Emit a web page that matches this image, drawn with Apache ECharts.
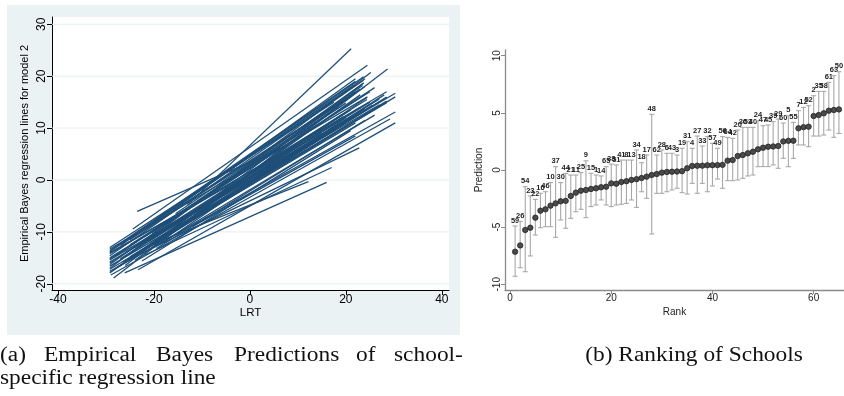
<!DOCTYPE html>
<html>
<head>
<meta charset="utf-8">
<script src="https://cdn.jsdelivr.net/npm/echarts@6/dist/echarts.min.js"></script>
<style>
  html, body { margin: 0; padding: 0; background: #fff; }
  #chart { width: 844px; height: 396px; }
</style>
</head>
<body>
<div id="chart"></div>
<script>
// panel (a): one regression line per school, LRT range -> predicted value
var lrtStart  = [-29.2, -29.2, -29.2, -29.2, -29.2, -29.2, -29.2, -29.2, -29.2, -29.2, -29.2, -29.2, -28.4, -29.0, -26.1, -23.3,
                 -24.4, -23.5, -13.0, -29.2, -20.0, -22.0, -18.0, -24.0, -23.0, -26.0, -20.0, -15.0, -25.0, -22.0, -18.0, -27.0,
                 -29.2, -16.0, -20.0, -25.0, -10.0, -28.0, -29.2, -21.0, -12.0, -24.0, -19.0, -26.0, -14.0, -22.0, -29.2, -17.0,
                 -29.2, -27.5, -25.0, -23.0, -21.0, -19.5, -28.0, -24.5, -17.0, -26.5, -22.5, -29.2, -20.5, -15.5, -27.0];
var lrtEnd    = [24.5, 23.7, 28.5, 23.7, 24.4, 28.5, 30.3, 23.7, 28.5, 25.2, 30.3, 23.0, 28.7, 29.2, 16.0, 30.3,
                 24.5, 8.0, 21.1, 22.0, 22.8, 17.05, 12.2, 20.9, 24.4, 23.7, 28.5, 30.3, 25.0, 24.0, 20.0, 21.0,
                 19.0, 22.0, 24.0, 20.0, 18.0, 25.0, 15.0, 26.0, 22.0, 27.0, 23.0, 18.0, 25.0, 23.0, 22.0, 20.0,
                 26.0, 24.0, 28.5, 22.0, 27.0, 24.0, 20.0, 19.5, 25.5, 28.0, 21.0, 17.5, 18.5, 23.5, 21.5];
var predStart = [-13.3, -13.8, -14.2, -14.6, -15.0, -15.4, -15.8, -16.3, -16.6, -17.0, -17.6, -17.9, -18.9, -18.3, -17.9, -17.3,
                 -9.45, -6.05, -4.8, -13.6, -13.0, -14.5, -11.5, -15.5, -14.0, -16.5, -12.5, -9.5, -12.5, -11.0, -12.0, -15.2,
                 -16.0, -5.8, -8.0, -11.5, -6.0, -17.0, -14.0, -13.5, -9.0, -13.0, -10.5, -14.0, -7.5, -9.5, -17.2, -9.0,
                 -15.2, -16.8, -14.8, -12.2, -11.8, -13.2, -14.6, -13.8, -10.5, -15.8, -15.6, -13.0, -10.2, -6.5, -12.6];
var predEnd   = [16.0, 19.9, 17.0, 19.2, 15.5, 15.9, 16.7, 18.7, 14.9, 20.7, 13.1, 16.4, 21.4, 11.75, -0.45, 11.0,
                 22.1, 6.6, 25.3, 19.0, 6.2, 2.4, -0.3, 16.1, 15.9, 18.7, 16.0, 16.0, 17.0, 18.0, 12.0, 13.5,
                 12.5, 19.5, 19.5, 15.5, 10.0, 14.0, 9.0, 12.5, 8.5, 14.5, 14.0, 10.5, 15.0, 17.5, 11.0, 13.0,
                 17.8, 13.8, 15.2, 17.0, 15.6, 11.5, 14.8, 12.2, 14.4, 16.4, 9.5, 15.0, 14.2, 18.2, 18.2];
var xTicksA = [-40, -20, 0, 20, 40];
var yTicksA = [-20, -10, 0, 10, 20, 30];

// panel (b): schools ordered by rank (rank = position + 1)
var schoolId = [59, 26, 54, 23, 22, 16, 46, 10, 37, 30, 44, 21, 11, 25, 9, 15, 1, 14, 65, 38,
                51, 41, 8, 13, 34, 18, 17, 48, 62, 28, 6, 43, 3, 19, 31, 4, 27, 33, 32, 57,
                49, 56, 64, 42, 20, 36, 53, 40, 24, 47, 45, 39, 29, 60, 5, 55, 7, 12, 52, 2,
                35, 58, 61, 63, 50];
var prediction = [-7.15, -6.6, -5.25, -5.05, -4.17, -3.56, -3.44, -3.12, -2.92, -2.74,
                  -2.7, -2.27, -1.98, -1.81, -1.75, -1.66, -1.6, -1.51, -1.46, -1.17,
                  -1.2, -1.05, -0.98, -0.87, -0.8, -0.7, -0.58, -0.44, -0.35, -0.23,
                  -0.17, -0.15, -0.13, -0.1, 0.15, 0.35, 0.37, 0.38, 0.41, 0.42,
                  0.43, 0.45, 0.82, 0.87, 1.22, 1.31, 1.46, 1.6, 1.81, 1.95,
                  2.04, 2.06, 2.1, 2.5, 2.55, 2.56, 3.65, 3.75, 3.79, 4.72,
                  4.81, 4.96, 5.19, 5.25, 5.3];
var upperCI = [-4.9, -4.5, -1.46, -2.27, -2.57, -2.04, -1.9, -1.1, 0.29, -1.1,
               -0.3, -0.44, -0.44, -0.23, 0.8, -0.29, -0.44, -0.52, 0.29, 0.52,
               0.44, 0.87, 0.87, 0.87, 1.75, 0.64, 1.31, 4.87, 1.31, 1.75,
               1.46, 1.46, 1.31, 1.9, 2.48, 1.9, 2.97, 2.1, 2.92, 2.33,
               1.9, 2.92, 2.85, 2.77, 3.5, 3.73, 3.73, 3.73, 4.31, 3.88,
               3.94, 4.23, 4.46, 4.11, 4.75, 4.17, 5.19, 5.48, 5.63, 6.5,
               6.88, 6.88, 7.67, 8.25, 8.6];
var lowerCI = [-9.3, -8.55, -8.9, -7.52, -5.69, -5.05, -4.96, -4.96, -5.89, -4.37,
               -5.1, -4.23, -3.65, -3.44, -4.17, -3.2, -3.06, -2.62, -3.06, -3.2,
               -3.06, -3.0, -2.92, -2.62, -3.27, -1.9, -2.48, -5.6, -2.04, -2.04,
               -1.9, -1.75, -1.6, -1.98, -2.1, -1.17, -2.04, -1.17, -1.9, -1.4,
               -0.79, -1.6, -0.93, -0.93, -0.87, -0.73, -0.52, -0.44, 0.29, 0.3,
               0.3, 0.44, 0.15, 1.02, 0.29, 1.02, 2.19, 2.19, 2.04, 2.97,
               2.97, 3.06, 3.5, 2.86, 3.2];
var xTicksB = [0, 20, 40, 60];
var yTicksB = [-10, -5, 0, 5, 10];

var chart = echarts.init(document.getElementById('chart'));

var schoolLines = [];
for (var i = 0; i < lrtStart.length; i++) {
  schoolLines.push({ coords: [[lrtStart[i], predStart[i]], [lrtEnd[i], predEnd[i]]] });
}
var ranking = [];
for (var k = 0; k < schoolId.length; k++) {
  ranking.push([k + 1, prediction[k], lowerCI[k], upperCI[k], schoolId[k]]);
}

var sans = '"Liberation Sans", Arial, sans-serif';
var serif = '"Liberation Serif", "Times New Roman", serif';
var xMinA = -41.25, xMaxA = 41.5;

// caption text, a bit wider than Times to look like the LaTeX font
function caption(text, x, y, centered) {
  return {
    type: 'text', x: x, y: y, scaleX: 1.17, z: 10,
    style: {
      text: text, fontSize: 20, fontFamily: serif, fill: '#111',
      align: centered ? 'center' : 'left', textAlign: centered ? 'center' : 'left',
      verticalAlign: 'middle', textVerticalAlign: 'middle'
    }
  };
}

var option = {
  animation: false,
  backgroundColor: '#fff',
  graphic: [
    { type: 'rect', z: -10, shape: { x: 7, y: 5, width: 453, height: 330 }, style: { fill: '#eaf2f3' } },
    caption('(a)', 0, 356),
    caption('Empirical', 44, 356),
    caption('Bayes', 156, 356),
    caption('Predictions', 234, 356),
    caption('of', 356, 356),
    caption('school-', 394, 356),
    caption('specific regression line', 0, 379),
    caption('(b) Ranking of Schools', 694, 356, true)
  ],
  grid: [
    { left: 52, right: 395, top: 17, bottom: 106, show: true, backgroundColor: '#fff', borderWidth: 0 },
    { left: 505, right: -9, top: 50, bottom: 106 }
  ],
  xAxis: [
    {
      type: 'value', gridIndex: 0, min: xMinA, max: xMaxA,
      axisLine: { onZero: false, lineStyle: { color: '#000', width: 1 } },
      axisTick: { customValues: xTicksA, length: 5, lineStyle: { color: '#000' } },
      axisLabel: { customValues: xTicksA, fontSize: 12, fontFamily: sans, color: '#000', margin: 4 },
      splitLine: { show: false },
      name: 'LRT', nameLocation: 'middle', nameGap: 17, nameMoveOverlap: false,
      nameTextStyle: { fontSize: 11.5, fontFamily: sans, color: '#000' }
    },
    {
      type: 'value', gridIndex: 1, min: -1, max: 66,
      axisLine: { onZero: false, lineStyle: { color: '#8a8a8a', width: 1.3 } },
      axisTick: { customValues: xTicksB, length: 4, lineStyle: { color: '#8a8a8a' } },
      axisLabel: { customValues: xTicksB, fontSize: 10, fontFamily: sans, color: '#222', margin: 3 },
      splitLine: { show: false },
      name: 'Rank', nameLocation: 'middle', nameGap: 17, nameMoveOverlap: false,
      nameTextStyle: { fontSize: 10, fontFamily: sans, color: '#222' }
    }
  ],
  yAxis: [
    {
      type: 'value', gridIndex: 0, min: -21.2, max: 31.4,
      axisLine: { show: true, onZero: false, lineStyle: { color: '#000', width: 1 } },
      axisTick: { show: true, customValues: yTicksA, length: 5, lineStyle: { color: '#000' } },
      axisLabel: { customValues: yTicksA, rotate: 90, fontSize: 12, fontFamily: sans, color: '#000', margin: 4 },
      splitLine: { show: false },
      name: 'Empirical Bayes regression lines for model 2', nameLocation: 'middle', nameGap: 22, nameMoveOverlap: false,
      nameTextStyle: { fontSize: 11, fontFamily: sans, color: '#000' }
    },
    {
      type: 'value', gridIndex: 1, min: -10.5, max: 10.5,
      axisLine: { show: true, onZero: false, lineStyle: { color: '#8a8a8a', width: 1.3 } },
      axisTick: { show: true, customValues: yTicksB, length: 4, lineStyle: { color: '#8a8a8a' } },
      axisLabel: { customValues: yTicksB, rotate: 90, fontSize: 10, fontFamily: sans, color: '#222', margin: 3 },
      splitLine: { show: false },
      name: 'Prediction', nameLocation: 'middle', nameGap: 21, nameMoveOverlap: false,
      nameTextStyle: { fontSize: 10, fontFamily: sans, color: '#222' }
    }
  ],
  series: [
    {
      // horizontal grid lines of panel (a)
      type: 'custom', xAxisIndex: 0, yAxisIndex: 0, z: 1, silent: true,
      data: yTicksA,
      renderItem: function (params, api) {
        var a = api.coord([xMinA, api.value(0)]);
        var b = api.coord([xMaxA, api.value(0)]);
        return { type: 'line', shape: { x1: a[0], y1: a[1], x2: b[0], y2: b[1] }, style: { stroke: '#e6eff1', lineWidth: 1 } };
      }
    },
    {
      type: 'lines', coordinateSystem: 'cartesian2d', xAxisIndex: 0, yAxisIndex: 0, z: 3, silent: true,
      data: schoolLines,
      lineStyle: { color: '#1f4f78', width: 1.3, opacity: 1 }
    },
    {
      type: 'custom', xAxisIndex: 1, yAxisIndex: 1, z: 3, silent: true,
      data: ranking,
      renderItem: function (params, api) {
        var r = api.value(0);
        var mid = api.coord([r, api.value(1)]);
        var bot = api.coord([r, api.value(2)]);
        var top = api.coord([r, api.value(3)]);
        var barStyle = { stroke: '#a8a8a8', lineWidth: 1.1 };
        return {
          type: 'group',
          children: [
            { type: 'line', shape: { x1: top[0], y1: top[1], x2: bot[0], y2: bot[1] }, style: barStyle },
            { type: 'line', shape: { x1: top[0] - 2.5, y1: top[1], x2: top[0] + 2.5, y2: top[1] }, style: barStyle },
            { type: 'line', shape: { x1: bot[0] - 2.5, y1: bot[1], x2: bot[0] + 2.5, y2: bot[1] }, style: barStyle },
            { type: 'circle', shape: { cx: mid[0], cy: mid[1], r: 2.7 }, style: { fill: '#4a4a4a', stroke: '#222', lineWidth: 0.8 } },
            { type: 'text', x: top[0], y: top[1] - 1.5, style: { text: String(api.value(4)), font: 'bold 7.5px ' + sans, fill: '#222', align: 'center', verticalAlign: 'bottom', textAlign: 'center', textVerticalAlign: 'bottom' } }
          ]
        };
      }
    }
  ]
};
chart.setOption(option);
</script>
</body>
</html>
